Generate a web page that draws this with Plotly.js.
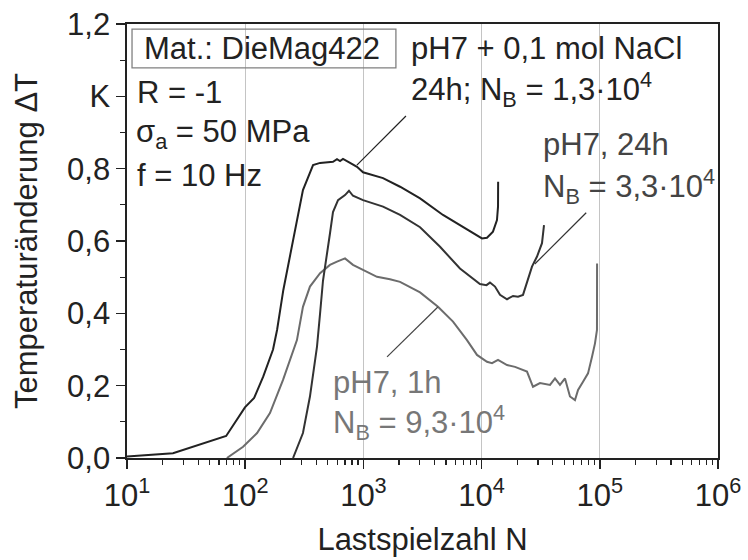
<!DOCTYPE html>
<html>
<head>
<meta charset="utf-8">
<script src="https://cdn.plot.ly/plotly-3.0.1.min.js"></script>
<style>html,body{margin:0;padding:0;background:#fff;}#chart{width:748px;height:560px;}</style>
</head>
<body>
<div id="chart"></div>
<script>
// Series: pH7 + 0,1 mol NaCl, 24h
const naclN = [10, 24.5, 69, 99.5, 119, 142, 172, 186, 210, 308, 375, 430, 553, 598, 634, 672, 771, 883, 993, 1466, 2042, 3016, 4714, 6561, 9141, 10070, 11110, 12480, 13490, 13770, 13800];
const naclT = [0.004, 0.013, 0.061, 0.14, 0.166, 0.225, 0.30, 0.354, 0.464, 0.741, 0.81, 0.816, 0.819, 0.826, 0.821, 0.827, 0.816, 0.805, 0.79, 0.774, 0.75, 0.718, 0.672, 0.644, 0.617, 0.607, 0.609, 0.626, 0.658, 0.695, 0.764];
// Series: pH7, 24h
const ph24N = [254, 308, 353, 405, 430, 455, 521, 553, 610, 699, 755, 816, 993, 1466, 2042, 3016, 4450, 6561, 9683, 11000, 11770, 12980, 14310, 16410, 18450, 20330, 22400, 24210, 26690, 29430, 32430, 33730];
const ph24T = [0, 0.069, 0.17, 0.308, 0.40, 0.49, 0.62, 0.68, 0.713, 0.727, 0.739, 0.725, 0.713, 0.695, 0.672, 0.638, 0.584, 0.524, 0.481, 0.478, 0.485, 0.474, 0.451, 0.439, 0.448, 0.446, 0.451, 0.483, 0.529, 0.557, 0.594, 0.644];
// Series: pH7, 1h
const ph1N = [70, 96, 126, 162, 209, 274, 308, 353, 430, 521, 598, 699, 816, 993, 1303, 1679, 2042, 3016, 4277, 5730, 7520, 9141, 11110, 12250, 13770, 16410, 19170, 24210, 27220, 31190, 37920, 41780, 46030, 50770, 55940, 61660, 65460, 72130, 79500, 85940, 91050, 94660, 94800];
const ph1T = [0, 0.031, 0.069, 0.124, 0.216, 0.326, 0.418, 0.474, 0.511, 0.534, 0.543, 0.552, 0.534, 0.52, 0.501, 0.494, 0.487, 0.458, 0.418, 0.377, 0.326, 0.285, 0.266, 0.262, 0.271, 0.257, 0.252, 0.239, 0.197, 0.207, 0.202, 0.220, 0.202, 0.220, 0.17, 0.160, 0.188, 0.211, 0.234, 0.280, 0.317, 0.354, 0.538];

// Tick labels
const xTickVals = [10, 100, 1000, 10000, 100000, 1000000];
const xTickText = ['10<sup>1</sup>', '10<sup>2</sup>', '10<sup>3</sup>', '10<sup>4</sup>', '10<sup>5</sup>', '10<sup>6</sup>'];
const xMinorVals = [20, 30, 40, 50, 60, 70, 80, 90,
                    200, 300, 400, 500, 600, 700, 800, 900,
                    2000, 3000, 4000, 5000, 6000, 7000, 8000, 9000,
                    20000, 30000, 40000, 50000, 60000, 70000, 80000, 90000,
                    200000, 300000, 400000, 500000, 600000, 700000, 800000, 900000];
const yTickVals = [0, 0.2, 0.4, 0.6, 0.8, 1.0, 1.2];
const yTickText = ['0,0', '0,2', '0,4', '0,6', '0,8', 'K', '1,2'];
const yMinorVals = [0.1, 0.3, 0.5, 0.7, 0.9, 1.1];

const FONT = 'Liberation Sans, Arial, sans-serif';
const FS = 31;

const traces = [
  {x: ph1N, y: ph1T, mode: 'lines', line: {color: '#6c6c6c', width: 2}, showlegend: false},
  {x: ph24N, y: ph24T, mode: 'lines', line: {color: '#333333', width: 2}, showlegend: false},
  {x: naclN, y: naclT, mode: 'lines', line: {color: '#222222', width: 2}, showlegend: false}
];

function txt(t, x, y, color) {
  return {text: t, x: x, y: y, xref: 'paper', yref: 'paper', xanchor: 'left', yanchor: 'middle',
          showarrow: false, font: {family: FONT, size: FS, color: color || '#222'}};
}

const layout = {
  width: 748, height: 560,
  margin: {l: 127, r: 30, t: 24, b: 102},
  paper_bgcolor: '#fff', plot_bgcolor: '#fff',
  font: {family: FONT, size: FS, color: '#222'},
  xaxis: {
    type: 'log', range: [1, 6],
    tickmode: 'array', tickvals: xTickVals, ticktext: xTickText,
    ticks: 'outside', ticklen: 9, tickwidth: 1.5, tickcolor: '#222',
    showline: true, linecolor: '#222', linewidth: 1.6, mirror: true,
    showgrid: true, gridcolor: '#c4c4c4', gridwidth: 1,
    zeroline: false,
    minor: {tickmode: 'array', tickvals: xMinorVals, ticks: 'outside', ticklen: 5, tickwidth: 1.2, tickcolor: '#222', showgrid: false},
    tickfont: {family: FONT, size: FS, color: '#222'},
    title: {text: 'Lastspielzahl N', font: {family: FONT, size: FS, color: '#222'}, standoff: 16}
  },
  yaxis: {
    range: [0, 1.2],
    tickmode: 'array', tickvals: yTickVals, ticktext: yTickText,
    ticks: 'outside', ticklen: 9, tickwidth: 1.5, tickcolor: '#222',
    showline: true, linecolor: '#222', linewidth: 1.6, mirror: true,
    showgrid: false, zeroline: false,
    minor: {tickmode: 'array', tickvals: yMinorVals, ticks: 'outside', ticklen: 5, tickwidth: 1.2, tickcolor: '#222', showgrid: false},
    tickfont: {family: FONT, size: FS, color: '#222'},
    title: {text: 'Temperaturänderung ΔT', font: {family: FONT, size: FS, color: '#222'}, standoff: 20}
  },
  shapes: [
    {type: 'rect', xref: 'paper', yref: 'paper', x0: 0.0085, x1: 0.455, y0: 0.899, y1: 0.988, line: {color: '#808080', width: 1.3}},
    {type: 'line', xref: 'paper', yref: 'paper', x0: 0.472, y0: 0.788, x1: 0.389, y1: 0.675, line: {color: '#222', width: 1.2}},
    {type: 'line', xref: 'paper', yref: 'paper', x0: 0.777, y0: 0.565, x1: 0.690, y1: 0.447, line: {color: '#333', width: 1.2}},
    {type: 'line', xref: 'paper', yref: 'paper', x0: 0.526, y0: 0.348, x1: 0.440, y1: 0.233, line: {color: '#444', width: 1.2}}
  ],
  annotations: [
    txt('Mat.: DieMag422', 0.0254, 0.9447),
    txt('R = -1', 0.0135, 0.8433),
    txt('σ<sub>a</sub> = 50 MPa', 0.0118, 0.7465),
    txt('f = 10 Hz', 0.0135, 0.6498),
    txt('pH7 + 0,1 mol NaCl', 0.4771, 0.9447),
    txt('24h; N<sub>B</sub> = 1,3·10<sup>4</sup>', 0.4771, 0.8502),
    txt('pH7, 24h', 0.7005, 0.7212, '#444'),
    txt('N<sub>B</sub> = 3,3·10<sup>4</sup>', 0.7005, 0.6267, '#444'),
    txt('pH7, 1h', 0.3452, 0.1751, '#777'),
    txt('N<sub>B</sub> = 9,3·10<sup>4</sup>', 0.3452, 0.0829, '#777')
  ]
};

Plotly.newPlot('chart', traces, layout, {staticPlot: true, displayModeBar: false});
</script>
</body>
</html>
